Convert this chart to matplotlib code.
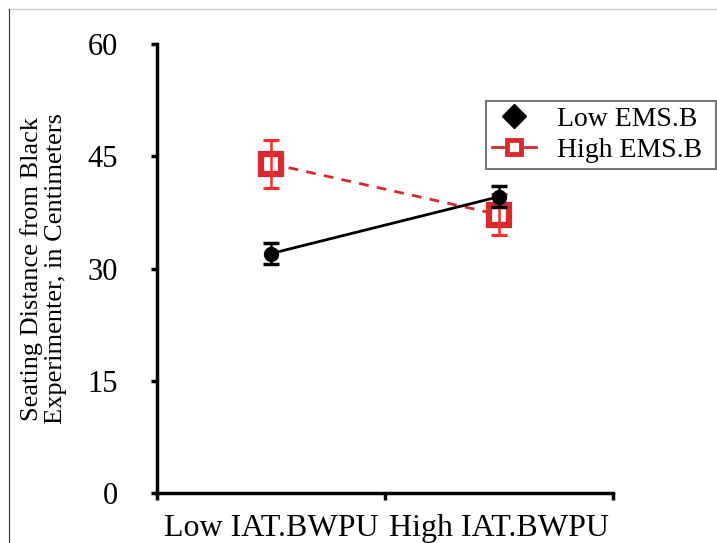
import matplotlib
matplotlib.use("Agg")
from matplotlib import pyplot as plt
from matplotlib.lines import Line2D

# data
groups = ["Low IAT.BWPU", "High IAT.BWPU"]
low_ems = [32.0, 39.6]
low_ems_err = [1.4, 1.4]
high_ems = [44.0, 37.2]
high_ems_err = [3.2, 2.7]
yticks = [0, 15, 30, 45, 60]

plt.rcParams['font.family'] = ['Liberation Serif', 'DejaVu Serif']

fig = plt.figure(figsize=(7.17, 5.43), dpi=100)
ax = fig.add_axes([0.219, 0.092, 0.636, 0.827])

x = [0.5, 1.5]
red = '#d62a30'
red_err = '#ff2a2a'

# high EMS.B: dashed line with open squares
ax.plot(x, high_ems, ls=(0, (3.5, 3)), color=red, lw=2, marker='s', ms=14.5,
        mfc='white', mec=red, mew=4.5, zorder=2)
ax.errorbar(x, high_ems, yerr=high_ems_err, fmt='none', ecolor=red_err,
            elinewidth=1.8, capsize=6, capthick=2.2, zorder=3)

# low EMS.B: solid line with filled circles
ax.plot(x, low_ems, color='black', lw=2, zorder=4)
ax.errorbar(x, low_ems, yerr=low_ems_err, fmt='none', ecolor='black',
            elinewidth=1.8, capsize=6, capthick=2.5, zorder=5)
ax.plot(x, low_ems, ls='none', marker='o', ms=10, color='black', zorder=6)

ax.set_xlim(0, 2)
ax.set_ylim(0, 60)
ax.set_yticks(yticks)
ax.set_xticks([0, 1, 2])
ax.set_xticklabels([])
ax.set_xticks(x, minor=True)
ax.set_xticklabels(groups, minor=True)
ax.tick_params(axis='x', which='minor', length=0, labelsize=23, pad=15)
ax.tick_params(axis='x', which='major', direction='out', length=5, width=2.5)
ax.tick_params(axis='y', direction='out', length=4, width=2.5, labelsize=22, pad=24)

for s in ['top', 'right']:
    ax.spines[s].set_visible(False)
for s in ['left', 'bottom']:
    ax.spines[s].set_linewidth(2.5)

ax.set_ylabel("Seating Distance from Black\nExperimenter, in Centimeters",
              fontsize=19, linespacing=1.1)
ax.yaxis.set_label_coords(-0.197, 0.5)

handles = [Line2D([], [], ls='none', marker='D', ms=12, color='black'),
           Line2D([], [], ls='-', color=red, lw=2, marker='s', ms=10,
                  mfc='white', mec=red, mew=3.5)]
leg = fig.legend(handles, ["Low EMS.B", "High EMS.B"], loc='upper left',
                 bbox_to_anchor=(486 / 717, 1 - 101 / 543, 230 / 717, 0),
                 mode='expand', fontsize=20,
                 frameon=True, fancybox=False, edgecolor='#555555',
                 handlelength=1.6, borderpad=0.2, labelspacing=0.2,
                 handletextpad=0.75, borderaxespad=0)
leg.get_frame().set_linewidth(1.5)

# faint page border
fig.add_artist(Line2D([8 / 717, 1], [1 - 9 / 543, 1 - 9 / 543],
                      color='#cccccc', lw=1))
fig.add_artist(Line2D([9 / 717, 9 / 717], [0, 1 - 9 / 543],
                      color='#333333', lw=0.8))

fig.savefig("out.png", dpi=100)
